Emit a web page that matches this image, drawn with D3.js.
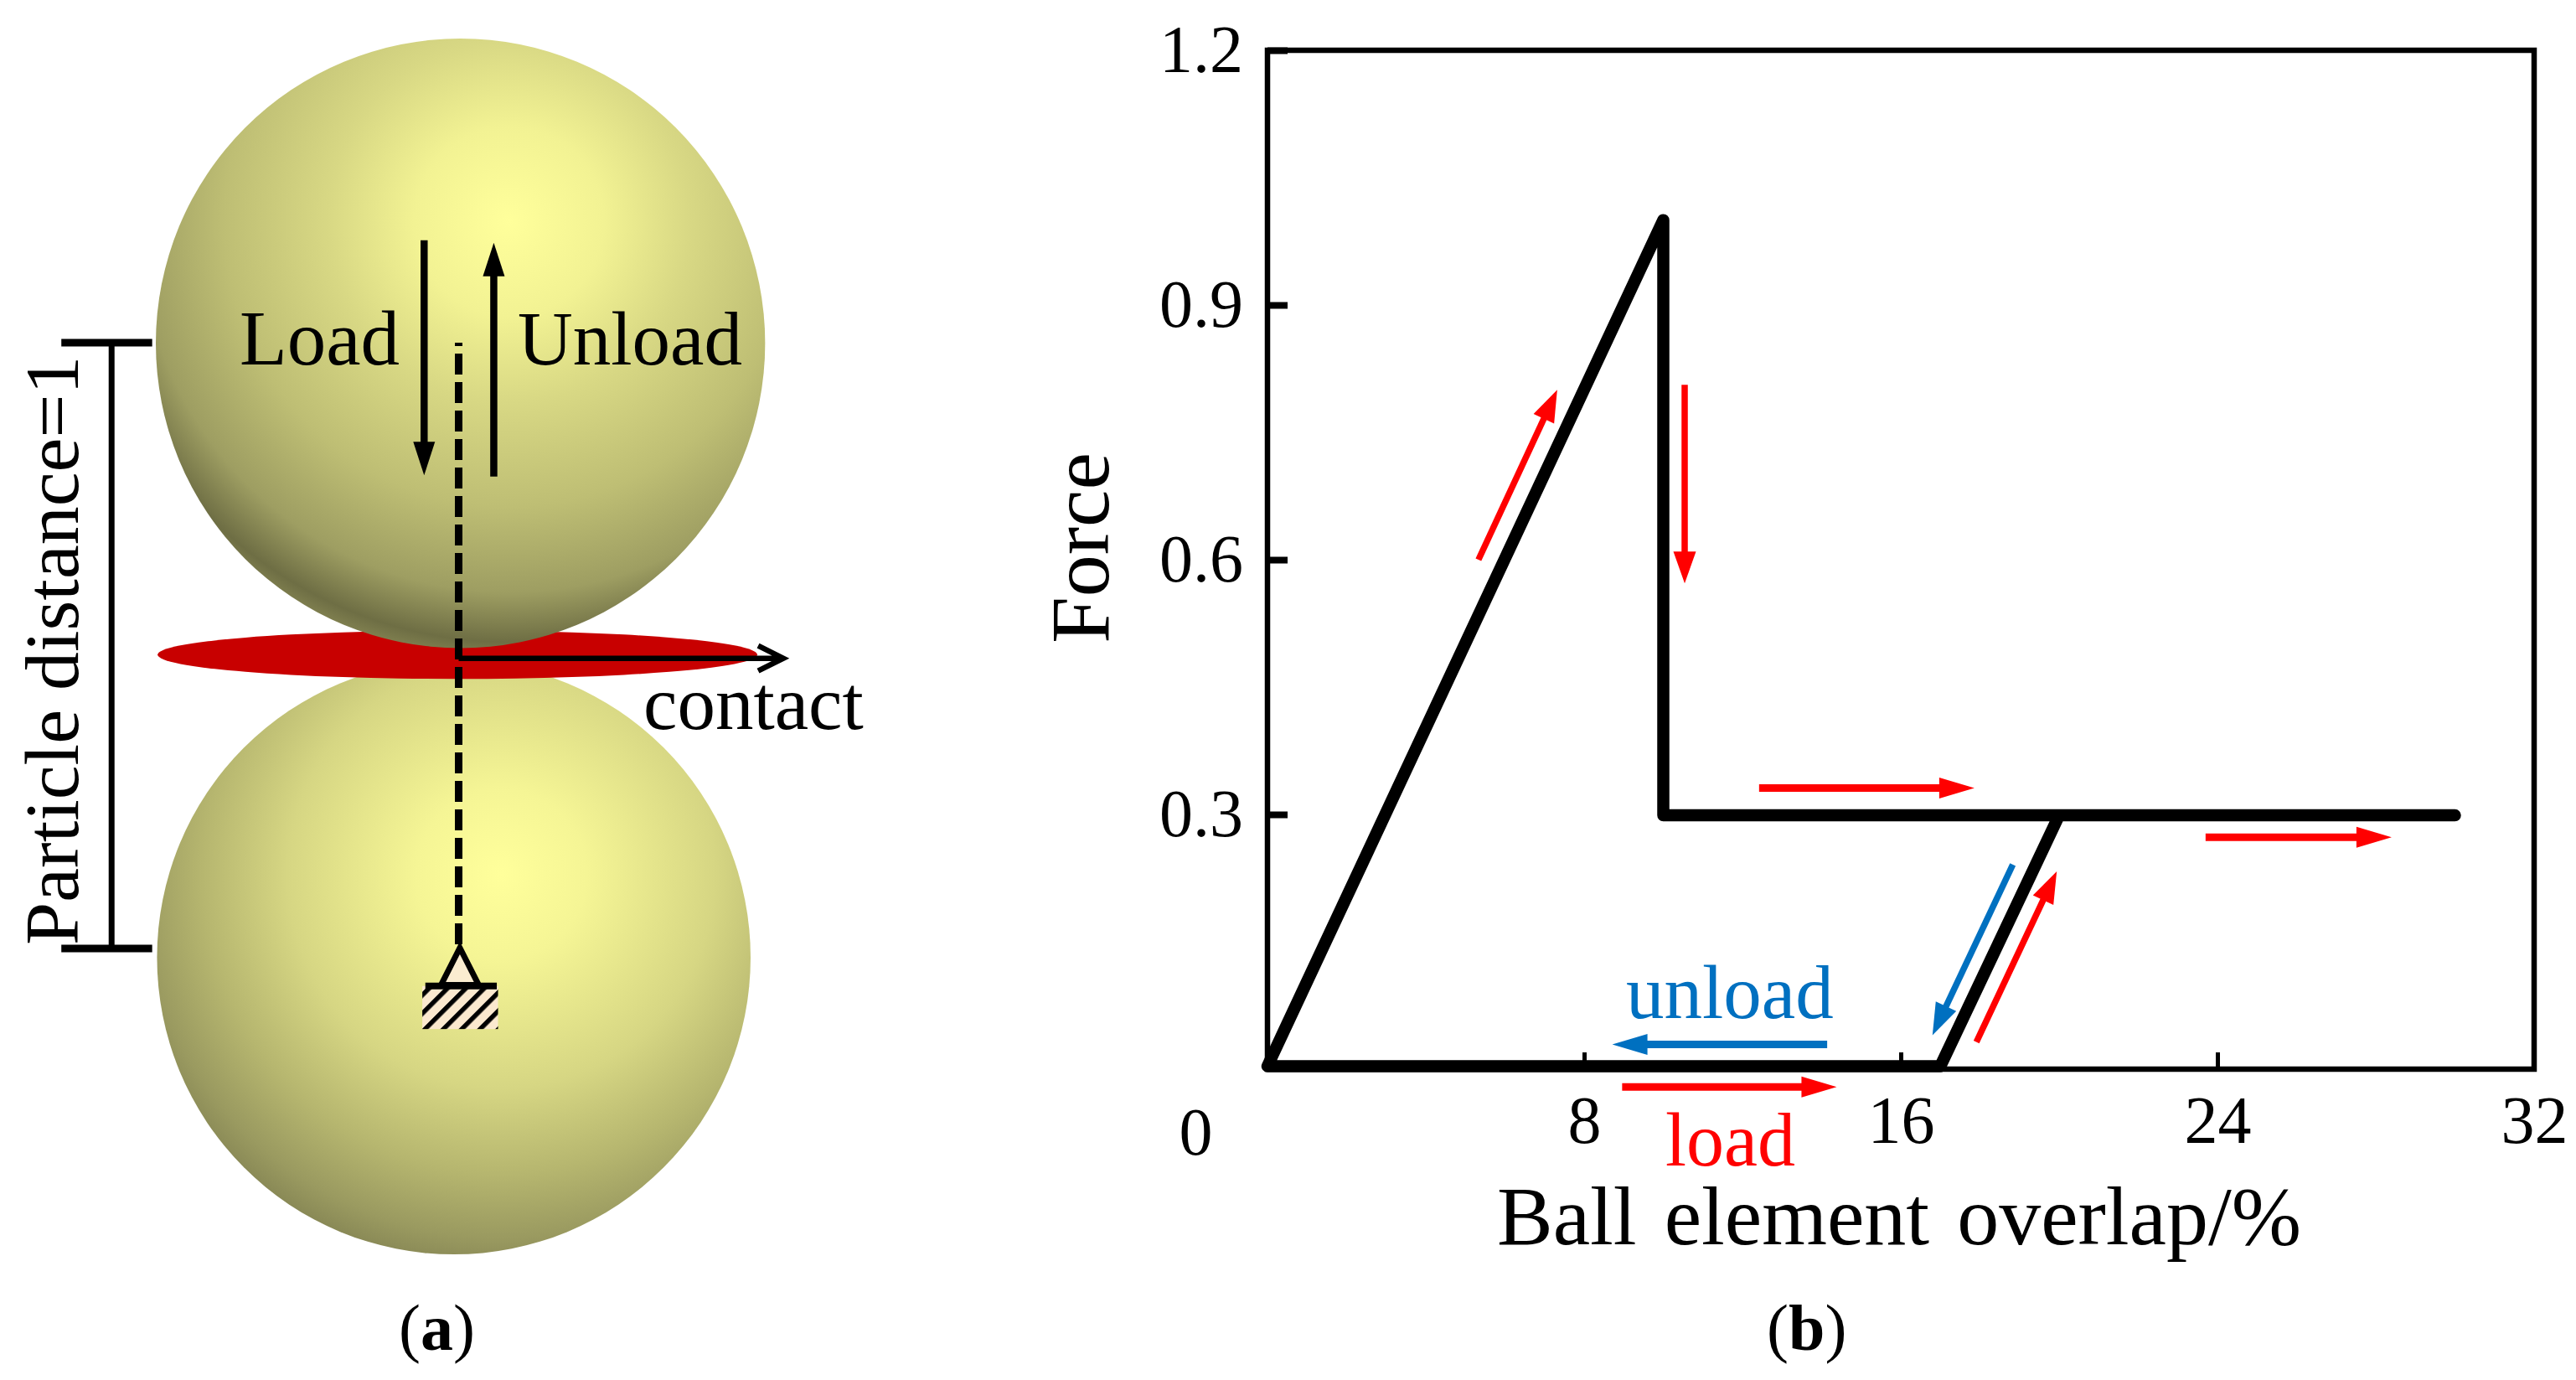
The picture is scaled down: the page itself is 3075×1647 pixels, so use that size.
<!DOCTYPE html>
<html>
<head>
<meta charset="utf-8">
<script src="https://cdn.jsdelivr.net/npm/d3@7"></script>
<style>
html, body { margin: 0; padding: 0; background: #fff; }
text { font-family: "Liberation Serif", serif; }
</style>
</head>
<body>
<svg id="chart" width="3075" height="1647"></svg>
<script>
// curve of panel b, drawn in one go
const overlap = [30, 10, 10, 0, 17, 20]
const force = [0.299, 0.299, 1, 0.0035, 0.0035, 0.299]

const xTickValues = [0, 8, 16, 24, 32]
const yTickValues = [0.3, 0.6, 0.9, 1.2]

// direction arrows of panel b, in axis units: x1, y1, x2, y2
const redArrows = [
	[5.33, 0.6, 7.32, 0.8, 'thin'],
	[10.54, 0.806, 10.54, 0.572, 'thin'],
	[12.42, 0.331, 17.86, 0.331, 'wide'],
	[23.7, 0.273, 28.4, 0.273, 'wide'],
	[17.91, 0.032, 19.94, 0.233, 'thin'],
	[8.96, -0.021, 14.38, -0.021, 'wide']
]
const blueArrows = [
	[18.83, 0.241, 16.8, 0.04, 'thin'],
	[14.14, 0.029, 8.71, 0.029, 'wide']
]

// panel a, in units of the particle distance: centre u, centre v, radius
const spheres = [
	{ id: 'sphereBottom', u: -0.008, v: -0.015, r: 0.49 },
	{ id: 'sphereTop', u: 0.003, v: 0.999, r: 0.503 }
]
const contactEllipse = [-0.002, 0.485, 0.495, 0.04]
const loadArrow = [-0.057, 1.169, -0.057, 0.781]
const unloadArrow = [0.058, 0.779, 0.058, 1.165]
const contactArrow = [0, 0.479, 0.536, 0.479]
const axisDash = [0.007, 1]

const red = '#FF0000'
const blue = '#0070C0'
const tickSize = 80

const svg = d3.select('#chart')
const defs = svg.append('defs')

const xScale = d3.scaleLinear().domain([0, 32]).range([1513, 3025])
const yScale = d3.scaleLinear().domain([0, 1.2]).range([1276, 60])

const uScale = d3.scaleLinear().domain([0, 1]).range([547.5, 1270.5])
const vScale = d3.scaleLinear().domain([0, 1]).range([1132, 409])

const arrowHead = (x1, y1, x2, y2, len, w) => {
	const a = Math.atan2(y2 - y1, x2 - x1)
	const bx = x2 - len * Math.cos(a)
	const by = y2 - len * Math.sin(a)
	const nx = -Math.sin(a) * w / 2
	const ny = Math.cos(a) * w / 2
	return [[x2, y2], [bx + nx, by + ny], [bx - nx, by - ny]].join(' ')
}

const drawArrow = (g, p, color, sw, len, w) => {
	const a = Math.atan2(p[3] - p[1], p[2] - p[0])
	g.append('line')
		.attr('x1', p[0]).attr('y1', p[1])
		.attr('x2', p[2] - (len - 2) * Math.cos(a))
		.attr('y2', p[3] - (len - 2) * Math.sin(a))
		.attr('stroke', color).attr('stroke-width', sw)
	g.append('polygon')
		.attr('points', arrowHead(p[0], p[1], p[2], p[3], len, w))
		.attr('fill', color)
}

// ---- panel a ----
const panelA = svg.append('g')

const gradients = [
	{ id: 'sphereBottom', cx: 0.58, cy: 0.36, r: 0.72,
		stops: [[0, '#FFFF9B'], [0.2, '#F5F595'], [0.5, '#D6D683'], [0.7, '#B6B66F'], [0.85, '#9A9A60'], [1, '#75754A']] },
	{ id: 'sphereTop', cx: 0.58, cy: 0.30, r: 0.78,
		stops: [[0, '#FFFF9B'], [0.2, '#F2F293'], [0.38, '#D8D884'], [0.6, '#BEBE74'], [0.78, '#9E9E62'], [0.885, '#6E6E44'], [0.93, '#858553']] }
]
gradients.forEach(g => {
	const grad = defs.append('radialGradient')
		.attr('id', 'grad-' + g.id)
		.attr('cx', g.cx).attr('cy', g.cy).attr('r', g.r)
	g.stops.forEach(s => grad.append('stop').attr('offset', s[0]).attr('stop-color', s[1]))
})

const radius = d => uScale(d) - uScale(0)

panelA.append('circle')
	.attr('cx', uScale(spheres[0].u)).attr('cy', vScale(spheres[0].v))
	.attr('r', radius(spheres[0].r))
	.attr('fill', 'url(#grad-sphereBottom)')

panelA.append('ellipse')
	.attr('cx', uScale(contactEllipse[0])).attr('cy', vScale(contactEllipse[1]))
	.attr('rx', radius(contactEllipse[2])).attr('ry', radius(contactEllipse[3]))
	.attr('fill', '#C80000')

panelA.append('circle')
	.attr('cx', uScale(spheres[1].u)).attr('cy', vScale(spheres[1].v))
	.attr('r', radius(spheres[1].r))
	.attr('fill', 'url(#grad-sphereTop)')

// dashed centre line, dashes counted up from the support
panelA.append('line')
	.attr('x1', uScale(0)).attr('x2', uScale(0))
	.attr('y1', vScale(axisDash[0])).attr('y2', vScale(axisDash[1]))
	.attr('stroke', '#000').attr('stroke-width', 9)
	.attr('stroke-dasharray', '25 9')

drawArrow(panelA, [uScale(loadArrow[0]), vScale(loadArrow[1]), uScale(loadArrow[2]), vScale(loadArrow[3])], '#000', 8.5, 40, 26)
drawArrow(panelA, [uScale(unloadArrow[0]), vScale(unloadArrow[1]), uScale(unloadArrow[2]), vScale(unloadArrow[3])], '#000', 8.5, 40, 26)

// contact arrow, open head
const cy = vScale(contactArrow[1])
const cTip = uScale(contactArrow[2])
panelA.append('path')
	.attr('d', `M${uScale(0)},${cy}H${cTip}M${cTip - 30},${cy - 15}L${cTip},${cy}L${cTip - 30},${cy + 15}`)
	.attr('fill', 'none').attr('stroke', '#000').attr('stroke-width', 6.5)

// particle distance bracket
const bracket = panelA.append('g').attr('stroke', '#000')
bracket.append('line')
	.attr('x1', uScale(-0.573)).attr('x2', uScale(-0.573))
	.attr('y1', vScale(1)).attr('y2', vScale(0))
	.attr('stroke-width', 7)
;[0, 1].forEach(v => {
	bracket.append('line')
		.attr('x1', uScale(-0.656)).attr('x2', uScale(-0.506))
		.attr('y1', vScale(v)).attr('y2', vScale(v))
		.attr('stroke-width', 9)
})

// fixed support
const hatch = defs.append('pattern')
	.attr('id', 'hatch').attr('patternUnits', 'userSpaceOnUse')
	.attr('width', 15.5).attr('height', 16)
	.attr('patternTransform', 'rotate(45)')
hatch.append('rect').attr('width', 15.5).attr('height', 16).attr('fill', '#FBE9CF')
hatch.append('rect').attr('width', 5.5).attr('height', 16).attr('fill', '#000')

panelA.append('rect')
	.attr('x', uScale(-0.06)).attr('y', vScale(-0.062))
	.attr('width', uScale(0.065) - uScale(-0.06))
	.attr('height', vScale(-0.133) - vScale(-0.062))
	.attr('fill', 'url(#hatch)')

panelA.append('polygon')
	.attr('points', [[uScale(0.002), vScale(0.001)], [uScale(0.033), vScale(-0.06)], [uScale(-0.029), vScale(-0.06)]].join(' '))
	.attr('fill', '#FAECD0').attr('stroke', '#000').attr('stroke-width', 7)

panelA.append('line')
	.attr('x1', uScale(-0.055)).attr('x2', uScale(0.063))
	.attr('y1', vScale(-0.062)).attr('y2', vScale(-0.062))
	.attr('stroke', '#000').attr('stroke-width', 8)

const label = (g, text, x, y, size, color) => g.append('text')
	.attr('x', x).attr('y', y)
	.attr('font-size', size + 'px')
	.attr('fill', color || '#000')
	.text(text)

label(panelA, 'Load', 286, 435, 93)
label(panelA, 'Unload', 618, 435, 91)
label(panelA, 'contact', 768, 870, 91)

panelA.append('text')
	.attr('transform', 'translate(93,1128) rotate(-90)')
	.attr('font-size', '92px')
	.text('Particle distance=1')

const capA = label(svg, '(', 476, 1611, 78)
capA.append('tspan').attr('font-weight', 'bold').text('a')
capA.append('tspan').text(')')

// ---- panel b ----
const panelB = svg.append('g')

const xAxis = d3.axisBottom(xScale)
	.tickValues(xTickValues)
	.tickFormat(d3.format('d'))
	.tickSize(-20)
	.tickPadding(31)

const yAxis = d3.axisLeft(yScale)
	.tickValues(yTickValues)
	.tickFormat(d3.format('.1f'))
	.tickSize(-24)
	.tickPadding(29)

const xTicks = panelB.append('g')
	.attr('transform', `translate(0,${yScale(0)})`)
	.call(xAxis)

const yTicks = panelB.append('g')
	.attr('transform', `translate(${xScale(0)},0)`)
	.call(yAxis)

panelB.selectAll('path.domain').remove()

panelB.selectAll('.tick text')
	.attr('font-family', '"Liberation Serif", serif')
	.attr('font-size', tickSize + 'px')
	.attr('fill', '#000')

yTicks.selectAll('.tick line').attr('stroke', '#000').attr('stroke-width', 8)
xTicks.selectAll('.tick line').attr('stroke', '#000').attr('stroke-width', 5)

// the 0 sits off on its own, left of the corner
xTicks.selectAll('.tick text')
	.filter(d => d === 0)
	.attr('x', -86)
	.attr('y', 45)

panelB.append('rect')
	.attr('x', xScale(0)).attr('y', yScale(1.2))
	.attr('width', xScale(32) - xScale(0))
	.attr('height', yScale(0) - yScale(1.2))
	.attr('fill', 'none')
	.attr('stroke', '#000')
	.attr('stroke-width', 6.5)

const line = d3.line()
	.x(d => xScale(d[0]))
	.y(d => yScale(d[1]))

panelB.append('path')
	.attr('d', line(d3.zip(overlap, force)))
	.attr('fill', 'none')
	.attr('stroke', '#000')
	.attr('stroke-width', 14.5)
	.attr('stroke-linecap', 'round')
	.attr('stroke-linejoin', 'round')

const drawSet = (set, color) => set.forEach(a => {
	const p = [xScale(a[0]), yScale(a[1]), xScale(a[2]), yScale(a[3])]
	if (a[4] === 'wide') drawArrow(panelB, p, color, 9, 42, 25)
	else drawArrow(panelB, p, color, 7.5, 38, 27)
})
drawSet(redArrows, red)
drawSet(blueArrows, blue)

label(panelB, 'unload', 1941, 1215, 91, blue)
label(panelB, 'load', 1988, 1391, 90, red)

panelB.append('text')
	.attr('x', 1787).attr('y', 1485)
	.attr('font-size', '100px')
	.attr('word-spacing', 8)
	.text('Ball element overlap/%')

panelB.append('text')
	.attr('transform', `translate(1323,${654}) rotate(-90)`)
	.attr('text-anchor', 'middle')
	.attr('font-size', '100px')
	.text('Force')

const capB = label(svg, '(', 2109, 1611, 78)
capB.append('tspan').attr('font-weight', 'bold').text('b')
capB.append('tspan').text(')')
</script>
</body>
</html>
